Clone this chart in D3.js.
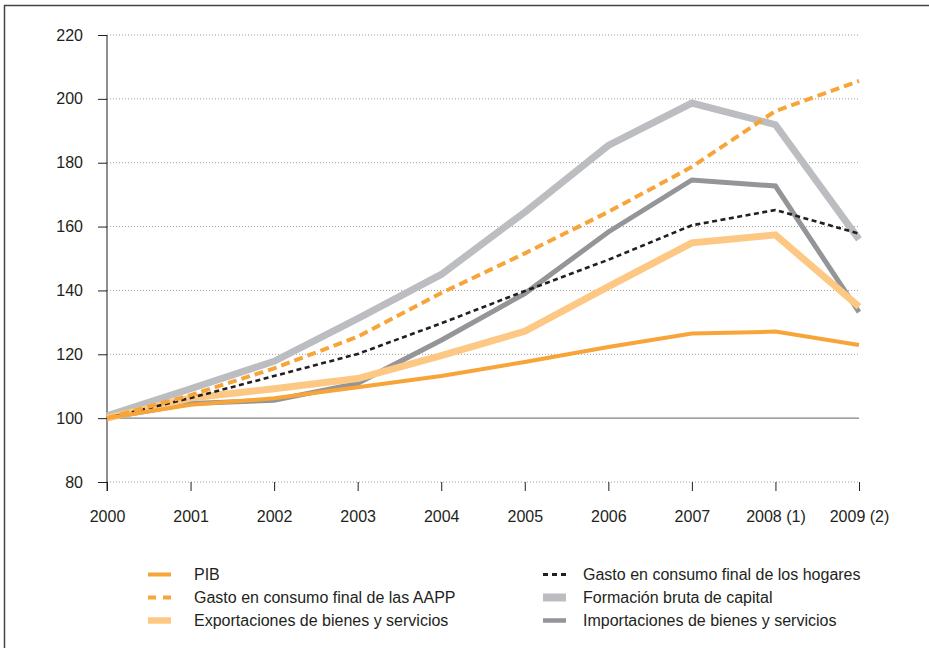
<!DOCTYPE html>
<html><head><meta charset="utf-8">
<script src="https://cdn.jsdelivr.net/npm/d3@7"></script>
<style>
body{margin:0;background:#fff;}
svg{display:block;font-family:"Liberation Sans",Arial,sans-serif;}
</style></head>
<body><svg id="c" width="929" height="648"></svg>
<script>
const years = ["2000","2001","2002","2003","2004","2005","2006","2007","2008 (1)","2009 (2)"];
const yTicks = [80,100,120,140,160,180,200,220];
const pib        = [100,104.2,106.2,109.7,113.2,117.6,122.3,126.5,127.1,122.9];
const aapp       = [100,107.2,115.6,125.5,139.2,151.6,164.6,178.7,196.2,205.6];
const hogares    = [100,106.3,113.2,120.1,129.7,139.8,149.6,160.4,165.2,157.8];
const formacion  = [100.7,109.2,117.8,131.2,145.0,164.5,185.4,198.7,191.9,156.0];
const exportac   = [100,106.3,109.2,112.4,119.6,127.2,141.2,154.9,157.4,134.9];
const importac   = [100,104.6,105.6,110.9,124.4,139.0,158.3,174.6,172.7,133.2];
const names = ["PIB","Gasto en consumo final de las AAPP","Exportaciones de bienes y servicios",
  "Gasto en consumo final de los hogares","Formación bruta de capital","Importaciones de bienes y servicios"];

const svg = d3.select("#c");
const x = d3.scalePoint().domain(years).range([107,859]);
const y = d3.scaleLinear().domain([80,220]).range([482,35]);
const ink = "#231f20";
const fs = 16;

// frame
svg.append("line").attr("x1",4.5).attr("x2",4.5).attr("y1",5).attr("y2",648).attr("stroke","#444").attr("stroke-width",1.5);
svg.append("line").attr("x1",4).attr("x2",929).attr("y1",5.5).attr("y2",5.5).attr("stroke","#444").attr("stroke-width",1.5);

// gridlines
yTicks.forEach(t=>{
  if(t===100){
    svg.append("line").attr("x1",107).attr("x2",859).attr("y1",y(t)).attr("y2",y(t)).attr("stroke","#808285").attr("stroke-width",1.2);
  } else {
    svg.append("line").attr("x1",107).attr("x2",859).attr("y1",y(t)).attr("y2",y(t)).attr("stroke","#9a9a9a").attr("stroke-width",1).attr("stroke-dasharray","1,2");
  }
});

// y axis
const ya = svg.append("g").attr("transform","translate(107,0)").call(d3.axisLeft(y).tickValues(yTicks).tickSize(9).tickPadding(15));
ya.select(".domain").attr("stroke",ink).attr("d","M0,"+y(220)+"V"+(y(80)+9));
ya.selectAll(".tick line").attr("stroke",ink);
ya.selectAll("text").attr("font-size",fs).attr("fill",ink).style("font-family","Liberation Sans, Arial, sans-serif");

// x axis
const xa = svg.append("g").attr("transform","translate(0,482)").call(d3.axisBottom(x).tickSize(9).tickPadding(20));
xa.select(".domain").remove();
xa.selectAll(".tick line").attr("stroke",ink);
xa.selectAll("text").attr("font-size",fs).attr("fill",ink).style("font-family","Liberation Sans, Arial, sans-serif");

const series = [
  {name:names[4], v:formacion, c:"#bcbdc0", w:7, d:null},
  {name:names[5], v:importac, c:"#939598", w:5, d:null},
  {name:names[2], v:exportac, c:"#fdc883", w:7, d:null},
  {name:names[3], v:hogares, c:ink, w:2.6, d:"5,3.5"},
  {name:names[0], v:pib, c:"#f7a539", w:4, d:null},
  {name:names[1], v:aapp, c:"#f7a539", w:4, d:"9,5"}
];
const line = d3.line().x((d,i)=>x(years[i])).y(d=>y(d));
series.forEach(s=>{
  svg.append("path").datum(s.v).attr("d",line).attr("fill","none").attr("stroke",s.c)
    .attr("stroke-width",s.w).attr("stroke-dasharray",s.d).attr("stroke-linejoin","miter");
});

// legend
const leg = [
  {name:names[0], c:"#f7a539", w:4, d:null, col:0,row:0},
  {name:names[1], c:"#f7a539", w:4, d:"8,7", col:0,row:1},
  {name:names[2], c:"#fdc883", w:6.5, d:null, col:0,row:2},
  {name:names[3], c:ink, w:2.8, d:"5,4", col:1,row:0},
  {name:names[4], c:"#bcbdc0", w:8, d:null, col:1,row:1},
  {name:names[5], c:"#939598", w:4.5, d:null, col:1,row:2}
];
leg.forEach(l=>{
  const lx = l.col===0?148:543, tx = l.col===0?194:583, ly = 574.5 + l.row*23;
  svg.append("line").attr("x1",lx).attr("x2",lx+23).attr("y1",ly).attr("y2",ly)
    .attr("stroke",l.c).attr("stroke-width",l.w).attr("stroke-dasharray",l.d);
  svg.append("text").attr("x",tx).attr("y",ly+5.5).attr("font-size",fs).attr("fill",ink).text(l.name);
});
</script></body></html>
